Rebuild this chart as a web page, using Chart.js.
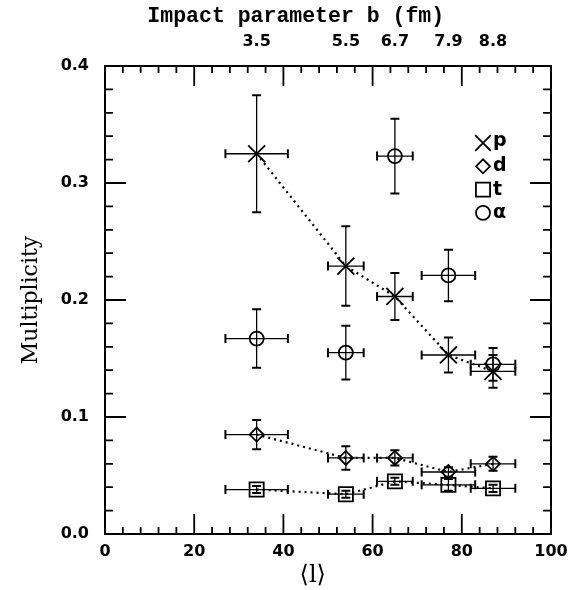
<!DOCTYPE html>
<html>
<head>
<meta charset="utf-8">
<script src="https://cdn.jsdelivr.net/npm/chart.js@4.4.1/dist/chart.umd.min.js"></script>
<style>
html,body{margin:0;padding:0;background:#fff;}
#wrap{width:580px;height:590px;position:relative;}
</style>
</head>
<body>
<div id="wrap"><canvas id="c" width="580" height="590"></canvas></div>
<script>
// ---- data ----
const lVals = [34, 54, 65, 77, 87];          // <l>
const lErr  = [7, 4, 4, 6, 5];               // horizontal error
const bLabels = ['3.5', '5.5', '6.7', '7.9', '8.8']; // impact parameter b (fm)

const pVals = [0.325, 0.229, 0.203, 0.153, 0.139];
const pErr  = [0.050, 0.034, 0.020, 0.015, 0.014];
const dVals = [0.085, 0.065, 0.065, 0.053, 0.060];
const dErr  = [0.0125, 0.010, 0.0065, 0.004, 0.006];
const tVals = [0.038, 0.034, 0.045, 0.042, 0.039];
const tErr  = [0.003, 0.003, 0.003, 0.005, 0.003];
const aVals = [0.167, 0.155, 0.323, 0.221, 0.145];
const aErr  = [0.025, 0.023, 0.032, 0.022, 0.014];

const yTicks = [0, 0.1, 0.2, 0.3, 0.4];
const xTicks = [0, 20, 40, 60, 80, 100];

const toPts = vals => lVals.map((x, i) => ({x: x, y: vals[i]}));

const errorBars = {
  id: 'errorBars',
  beforeDatasetsDraw(chart) {
    const ctx = chart.ctx, xs = chart.scales.x, ys = chart.scales.y;
    ctx.save();
    ctx.strokeStyle = '#000';
    chart.data.datasets.forEach((ds, di) => {
      ds.data.forEach((pt, i) => {
        const px = xs.getPixelForValue(pt.x), py = ys.getPixelForValue(pt.y);
        const x0 = xs.getPixelForValue(pt.x - ds.errX[i]), x1 = xs.getPixelForValue(pt.x + ds.errX[i]);
        const y0 = ys.getPixelForValue(pt.y - ds.errY[i]), y1 = ys.getPixelForValue(pt.y + ds.errY[i]);
        ctx.lineWidth = 1.3;
        ctx.beginPath();
        ctx.moveTo(x0, py); ctx.lineTo(x1, py);
        ctx.moveTo(px, y0); ctx.lineTo(px, y1);
        ctx.stroke();
        ctx.lineWidth = 2;
        const c = 4.5;
        ctx.beginPath();
        ctx.moveTo(x0, py - c); ctx.lineTo(x0, py + c);
        ctx.moveTo(x1, py - c); ctx.lineTo(x1, py + c);
        ctx.moveTo(px - c, y0); ctx.lineTo(px + c, y0);
        ctx.moveTo(px - c, y1); ctx.lineTo(px + c, y1);
        ctx.stroke();
      });
    });
    ctx.restore();
  }
};

const frameAndTicks = {
  id: 'frameAndTicks',
  afterDraw(chart) {
    const ctx = chart.ctx, a = chart.chartArea, xs = chart.scales.x, ys = chart.scales.y;
    ctx.save();
    ctx.strokeStyle = '#000';
    ctx.lineWidth = 2;
    ctx.strokeRect(a.left, a.top, a.right - a.left, a.bottom - a.top);
    ctx.lineWidth = 1.8;
    ctx.beginPath();
    for (let v = 4; v < 100; v += 4) {
      const x = xs.getPixelForValue(v);
      const len = (v % 20 === 0) ? 20 : 7;
      ctx.moveTo(x, a.bottom); ctx.lineTo(x, a.bottom - len);
      ctx.moveTo(x, a.top); ctx.lineTo(x, a.top + len);
    }
    for (let k = 1; k < 20; k++) {
      const v = k * 0.02;
      const y = ys.getPixelForValue(v);
      const len = (k % 5 === 0) ? 21 : 8;
      ctx.moveTo(a.left, y); ctx.lineTo(a.left + len, y);
      ctx.moveTo(a.right, y); ctx.lineTo(a.right - len, y);
    }
    ctx.stroke();
    // legend
    const items = [
      {style: 'crossRot', r: 11, label: 'p'},
      {style: 'rectRot', r: 7, label: 'd'},
      {style: 'rect', r: 10, label: 't'},
      {style: 'circle', r: 7, label: '\u03B1'}
    ];
    ctx.textBaseline = 'middle';
    ctx.textAlign = 'left';
    items.forEach((it, i) => {
      const y = 143 + i * 23.3;
      ctx.lineWidth = 1.8;
      ctx.fillStyle = 'rgba(0,0,0,0)';
      Chart.helpers.drawPoint(ctx, {pointStyle: it.style, radius: it.r, borderWidth: 1.8}, 483, y);
      ctx.fillStyle = '#000';
      ctx.font = 'bold 19px "DejaVu Sans"';
      ctx.fillText(it.label, 493, y + (it.label === 'p' ? -2 : 0));
    });
    ctx.restore();
  }
};

const nb = '\u00A0';
const tickFont = {family: '"DejaVu Sans"', size: 16, weight: 'bold'};

new Chart(document.getElementById('c'), {
  type: 'scatter',
  data: {
    datasets: [
      {label: 'p', data: toPts(pVals), errX: lErr, errY: pErr, pointStyle: 'crossRot', pointRadius: 12,
       showLine: true, borderDash: [2, 4], borderWidth: 2.2},
      {label: 'd', data: toPts(dVals), errX: lErr, errY: dErr, pointStyle: 'rectRot', pointRadius: 7,
       showLine: true, borderDash: [2, 4], borderWidth: 2.2},
      {label: 't', data: toPts(tVals), errX: lErr, errY: tErr, pointStyle: 'rect', pointRadius: 10,
       showLine: true, borderDash: [2, 4], borderWidth: 2.2},
      {label: '\u03B1', data: toPts(aVals), errX: lErr, errY: aErr, pointStyle: 'circle', pointRadius: 7,
       showLine: false}
    ].map(d => Object.assign({borderColor: '#000', backgroundColor: 'rgba(0,0,0,0)',
       pointBorderColor: '#000', pointBackgroundColor: 'rgba(0,0,0,0)', pointBorderWidth: 1.8,
       pointHoverRadius: 0}, d))
  },
  options: {
    responsive: false,
    animation: false,
    events: [],
    layout: {padding: {left: 0, right: 29, top: 0, bottom: 0}},
    plugins: {legend: {display: false}, tooltip: {enabled: false}},
    scales: {
      x: {
        type: 'linear', position: 'bottom', min: 0, max: 100,
        afterBuildTicks: s => { s.ticks = xTicks.map(v => ({value: v})); },
        afterFit: s => { s.height = 56; },
        grid: {display: false, drawTicks: false}, border: {display: false},
        ticks: {font: tickFont, color: '#000', padding: 8, maxRotation: 0},
        title: {display: true, text: '\u27E8l\u27E9' + nb + nb + nb + nb, color: '#000',
                font: {family: '"DejaVu Serif"', size: 24}, padding: {top: 0, bottom: 0}}
      },
      xTop: {
        type: 'linear', position: 'top', min: 0, max: 100,
        afterBuildTicks: s => { s.ticks = lVals.map(v => ({value: v})); },
        afterFit: s => { s.height = 66; },
        grid: {display: false, drawTicks: false}, border: {display: false},
        ticks: {font: tickFont, color: '#000', padding: 15, maxRotation: 0, autoSkip: false,
                callback: (v, i) => bLabels[i]},
        title: {display: true, text: 'Impact parameter b (fm)' + nb.repeat(5), color: '#000',
                font: {family: '"Liberation Mono"', size: 21.5, weight: 'bold'}, padding: {top: 4, bottom: 0}}
      },
      y: {
        type: 'linear', position: 'left', min: 0, max: 0.4,
        afterBuildTicks: s => { s.ticks = yTicks.map(v => ({value: v})); },
        afterFit: s => { s.width = 105; },
        grid: {display: false, drawTicks: false}, border: {display: false},
        ticks: {font: tickFont, color: '#000', padding: 16, callback: v => v.toFixed(1)},
        title: {display: true, text: 'Multiplicity', color: '#000',
                font: {family: '"DejaVu Serif"', size: 22}, padding: {top: 18, bottom: 0}}
      }
    }
  },
  plugins: [errorBars, frameAndTicks]
});
</script>
</body>
</html>
